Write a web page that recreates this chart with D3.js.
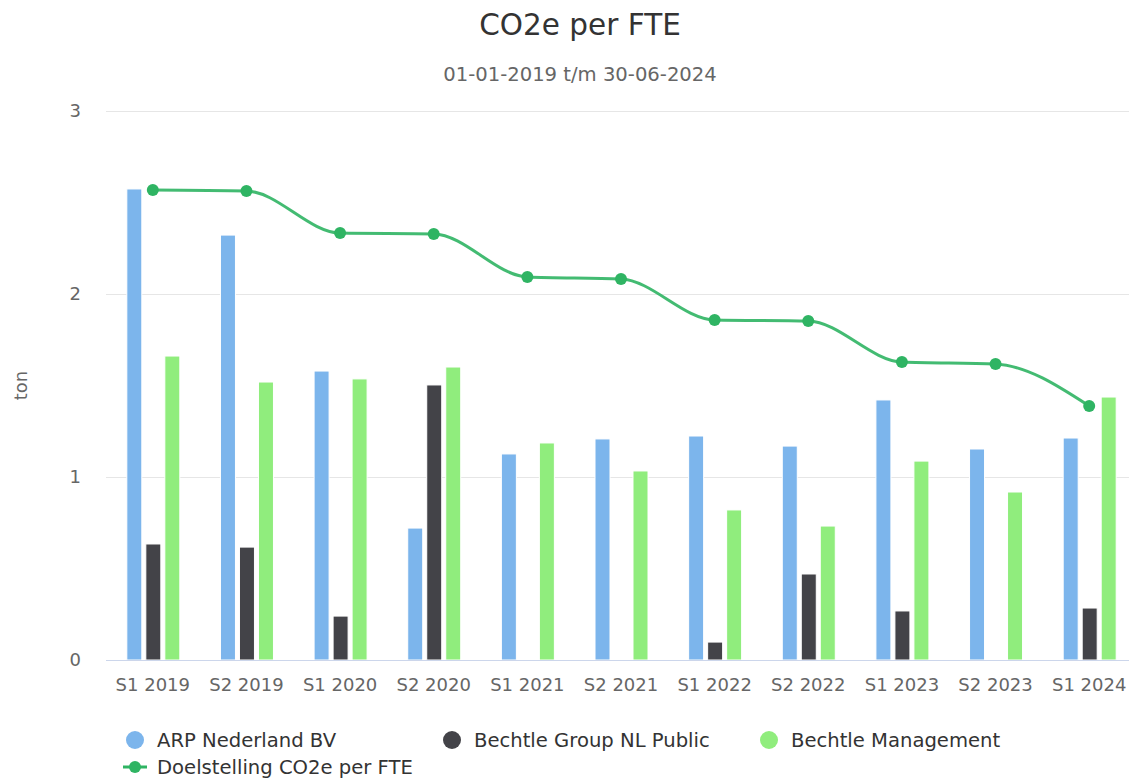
<!DOCTYPE html>
<html>
<head>
<meta charset="utf-8">
<script src="https://cdn.jsdelivr.net/npm/d3@7"></script>
<style>
	body { margin: 0; background: #fff; }
	text { font-family: "DejaVu Sans", sans-serif; }
</style>
</head>
<body>
<div id="chart"></div>
<script>
// data
let periods = ["S1 2019", "S2 2019", "S1 2020", "S2 2020", "S1 2021", "S2 2021", "S1 2022", "S2 2022", "S1 2023", "S2 2023", "S1 2024"];
let arp = [2.574, 2.322, 1.579, 0.721, 1.126, 1.208, 1.224, 1.169, 1.421, 1.153, 1.213];
let bgPublic = [0.634, 0.617, 0.240, 1.503, null, null, 0.098, 0.470, 0.268, null, 0.284];
let bManagement = [1.661, 1.519, 1.536, 1.601, 1.186, 1.033, 0.820, 0.732, 1.087, 0.918, 1.437];
let target = [2.568, 2.563, 2.333, 2.328, 2.093, 2.082, 1.858, 1.852, 1.628, 1.617, 1.388];
let yTicks = [0, 1, 2, 3];

let seriesNames = ["ARP Nederland BV", "Bechtle Group NL Public", "Bechtle Management"];
let seriesColors = ["#7cb5ec", "#434348", "#90ed7d"];
let lineName = "Doelstelling CO2e per FTE";
let lineColor = "#2fb463";

let W = 1129, H = 778;
let plot = { left: 106, right: 1136, top: 111, bottom: 660 };

let svg = d3.select('#chart').append('svg')
	.attr('width', W)
	.attr('height', H)
	.style('display', 'block');

let x = d3.scaleBand()
	.domain(periods)
	.range([plot.left, plot.right]);

let y = d3.scaleLinear()
	.domain([0, 3])
	.range([plot.bottom, plot.top]);

// inner band for the three bars of a group
let xInner = d3.scaleBand()
	.domain([0, 1, 2])
	.range([-26, 27])
	.paddingInner(0.2105);

// title
svg.append('text')
	.attr('x', 580).attr('y', 35)
	.attr('text-anchor', 'middle')
	.attr('fill', '#333333')
	.style('font-size', '29.5px')
	.text('CO2e per FTE');

svg.append('text')
	.attr('x', 580).attr('y', 81)
	.attr('text-anchor', 'middle')
	.attr('fill', '#666666')
	.style('font-size', '19.6px')
	.text('01-01-2019 t/m 30-06-2024');

// grid
svg.append('g').selectAll('line')
	.data(yTicks.filter(d => d > 0))
	.enter().append('line')
	.attr('x1', plot.left).attr('x2', plot.right)
	.attr('y1', d => Math.round(y(d)) + 0.5)
	.attr('y2', d => Math.round(y(d)) + 0.5)
	.attr('stroke', '#e6e6e6');

// y labels
svg.append('g').selectAll('text')
	.data(yTicks)
	.enter().append('text')
	.attr('x', 81)
	.attr('y', d => y(d) + 6)
	.attr('text-anchor', 'end')
	.attr('fill', '#666666')
	.style('font-size', '18px')
	.text(d => d);

svg.append('text')
	.attr('transform', 'translate(27,' + ((plot.top + plot.bottom) / 2) + ') rotate(-90)')
	.attr('text-anchor', 'middle')
	.attr('fill', '#666666')
	.style('font-size', '18px')
	.text('ton');

// bars
let allSeries = [arp, bgPublic, bManagement];
allSeries.forEach(function(vals, s) {
	svg.append('g').selectAll('rect')
		.data(vals.map((v, i) => ({ p: periods[i], v: v })).filter(d => d.v != null))
		.enter().append('rect')
		.attr('x', d => x(d.p) + x.bandwidth() / 2 + xInner(s))
		.attr('width', xInner.bandwidth())
		.attr('y', d => y(d.v))
		.attr('height', d => plot.bottom - y(d.v))
		.attr('fill', seriesColors[s])
		.attr('stroke', '#ffffff')
		.attr('stroke-width', 1);
});

// x axis line
svg.append('line')
	.attr('x1', plot.left).attr('x2', plot.right)
	.attr('y1', plot.bottom + 0.5).attr('y2', plot.bottom + 0.5)
	.attr('stroke', '#ccd6eb');

let xAxis = d3.axisBottom(x).tickSize(0).tickPadding(18);
let gx = svg.append('g')
	.attr('transform', 'translate(0,' + plot.bottom + ')')
	.call(xAxis);
gx.select('.domain').remove();
gx.selectAll('text')
	.attr('fill', '#666666')
	.style('font-size', '18px')
	.style('font-family', '"DejaVu Sans", sans-serif');

// target line
let line = d3.line()
	.x((d, i) => x(periods[i]) + x.bandwidth() / 2)
	.y(d => y(d))
	.curve(d3.curveMonotoneX);

svg.append('path')
	.datum(target)
	.attr('d', line)
	.attr('fill', 'none')
	.attr('stroke', lineColor)
	.attr('stroke-opacity', 0.9)
	.attr('stroke-width', 3);

svg.append('g').selectAll('circle')
	.data(target)
	.enter().append('circle')
	.attr('cx', (d, i) => x(periods[i]) + x.bandwidth() / 2)
	.attr('cy', d => y(d))
	.attr('r', 6)
	.attr('fill', lineColor);

// legend
let legend = svg.append('g');
let legendPos = [135, 452, 769];
seriesNames.forEach(function(name, i) {
	legend.append('circle')
		.attr('cx', legendPos[i]).attr('cy', 740)
		.attr('r', 9)
		.attr('fill', seriesColors[i]);
	legend.append('text')
		.attr('x', legendPos[i] + 22).attr('y', 747)
		.attr('fill', '#333333')
		.style('font-size', '19.6px')
		.text(name);
});
legend.append('line')
	.attr('x1', 123).attr('x2', 147)
	.attr('y1', 767).attr('y2', 767)
	.attr('stroke', lineColor)
	.attr('stroke-width', 3);
legend.append('circle')
	.attr('cx', 135).attr('cy', 767)
	.attr('r', 6)
	.attr('fill', lineColor);
legend.append('text')
	.attr('x', 157).attr('y', 774)
	.attr('fill', '#333333')
	.style('font-size', '19.6px')
	.text(lineName);
</script>
</body>
</html>
